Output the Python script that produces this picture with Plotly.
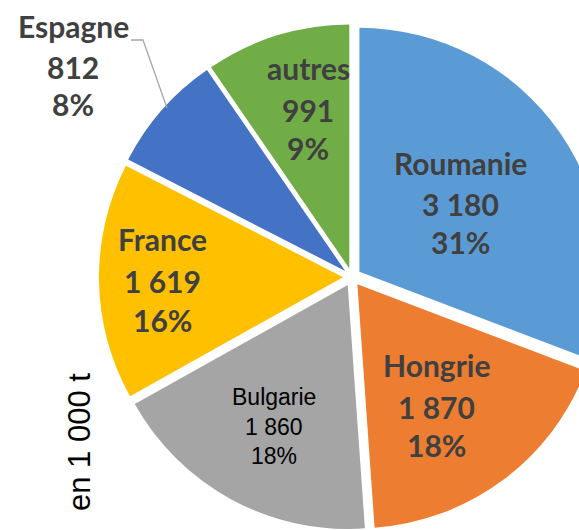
import plotly.graph_objects as go

# ---- data ----
countries = ["Roumanie", "Hongrie", "Bulgarie", "France", "Espagne", "autres"]
values = [3180, 1870, 1860, 1619, 812, 991]
value_labels = ["3 180", "1 870", "1 860", "1 619", "812", "991"]
pct_labels = ["31%", "18%", "18%", "16%", "8%", "9%"]
unit_label = "en 1 000 t"

# ---- style ----
colors = ["#5B9BD5", "#ED7D31", "#A5A5A5", "#FFC000", "#4472C4", "#70AD47"]
W, H = 640, 570          # figure larger than the window -> pie is clipped like the reference
CX, CY, R, PULL = 352, 277, 244, 0.037
half = R * (1 + PULL)


def px(x):
    return x / W


def py(y):
    return 1 - y / H


fig = go.Figure(go.Pie(
    labels=countries,
    values=values,
    sort=False,
    direction="clockwise",
    rotation=0,
    pull=[PULL] * len(values),
    marker=dict(colors=colors, line=dict(color="white", width=0)),
    textinfo="none",
    hoverinfo="label+value+percent",
    showlegend=False,
    domain=dict(x=[px(CX - half), px(CX + half)], y=[py(CY + half), py(CY - half)]),
))

# label block positions (pixel centres of the three lines) and styles
label_pos = {
    "Roumanie": (460, [163, 204, 242]),
    "Hongrie": (436, [365, 407, 445]),
    "Bulgarie": (274, [397, 427, 456]),
    "France": (162, [239, 281, 320]),
    "Espagne": (73, [26, 67, 104]),
    "autres": (308, [68, 110, 148]),
}
bold_font = dict(family="Lato", size=30, color="#404040", weight="bold")
plain_font = dict(family="Liberation Sans, Arial", size=23, color="#000000")

for name, val, pct in zip(countries, value_labels, pct_labels):
    x, ys = label_pos[name]
    font = plain_font if name == "Bulgarie" else bold_font
    for txt, y in zip([name, val, pct], ys):
        fig.add_annotation(x=px(x), y=py(y), xref="paper", yref="paper",
                           text=txt, showarrow=False, font=font,
                           xanchor="center", yanchor="middle")

# leader line for Espagne
fig.add_shape(type="path", xref="paper", yref="paper",
              path=f"M {px(131)} {py(40)} L {px(143)} {py(40)} L {px(167)} {py(108)}",
              line=dict(color="#A6A6A6", width=1.3))

# unit label
fig.add_annotation(x=px(79), y=py(442), xref="paper", yref="paper",
                   text=unit_label, showarrow=False, textangle=-90,
                   font=dict(family="Liberation Sans, Arial", size=31, color="#000000"),
                   xanchor="center", yanchor="middle")

fig.update_layout(width=W, height=H, margin=dict(l=0, r=0, t=0, b=0),
                  paper_bgcolor="white", plot_bgcolor="white")

fig.write_html("out.html",
               post_script="document.body.style.margin='0';"
                           "document.documentElement.style.overflow='hidden';"
                           "document.body.style.overflow='hidden';")
